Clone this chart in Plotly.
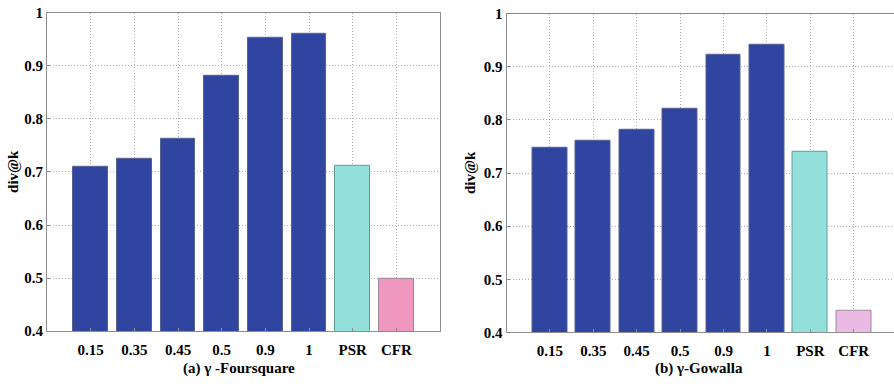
import plotly.graph_objects as go

W, H = 894, 388

# categories and values for each panel
categories = ["0.15", "0.35", "0.45", "0.5", "0.9", "1", "PSR", "CFR"]
foursquare_vals = [0.709, 0.724, 0.762, 0.881, 0.952, 0.961, 0.712, 0.499]
gowalla_vals = [0.748, 0.761, 0.782, 0.822, 0.922, 0.942, 0.741, 0.440]
y_ticks = [0.4, 0.5, 0.6, 0.7, 0.8, 0.9, 1.0]
y_tick_text = ["0.4", "0.5", "0.6", "0.7", "0.8", "0.9", "1"]
titles = ["(a) γ -Foursquare", "(b) γ-Gowalla"]

BLUE = "#2F45A0"
TEAL = "#93DFD9"
PINK_A = "#F097C0"
PINK_B = "#EBBAE4"
FONT = "Liberation Serif"

fill_a = [BLUE] * 6 + [TEAL, PINK_A]
fill_b = [BLUE] * 6 + [TEAL, PINK_B]
edge = ["#5A628F"] * 6 + ["#5E9C99", "#9A8A98"]

xpos = list(range(1, len(categories) + 1))
bold = lambda s: "<b>" + s + "</b>"

fig = go.Figure()
fig.add_trace(go.Bar(x=xpos, y=foursquare_vals, base=0, marker=dict(color=fill_a, line=dict(color=edge, width=1)),
                     width=0.8, xaxis="x", yaxis="y", showlegend=False))
fig.add_trace(go.Bar(x=xpos, y=gowalla_vals, base=0, marker=dict(color=fill_b, line=dict(color=edge, width=1)),
                     width=0.8, xaxis="x2", yaxis="y2", showlegend=False))

# pixel geometry of the two panels
L1, R1 = 47, 440
L2 = 506.5
step2 = 43.4
R2 = W
T1, B1 = 5, 337
T2, B2 = 6, 338.3

def px(v):
    return v / W

def py(v):
    return 1 - v / H

tickfont = dict(family=FONT, size=15, color="black")
gridcommon = dict(showgrid=True, gridcolor="#b0b0b0", griddash="1px,2px", gridwidth=1,
                  showline=True, linecolor="#8c8c8c", linewidth=1, ticks="inside",
                  ticklen=3, tickcolor="#8c8c8c", tickfont=tickfont, zeroline=False,
                  fixedrange=True, ticklabeloverflow="allow")

fig.update_layout(
    width=W, height=H,
    margin=dict(l=0, r=0, t=0, b=0),
    paper_bgcolor="white", plot_bgcolor="white",
    bargap=0,
    xaxis=dict(domain=[px(L1), px(R1)], range=[0, 9], anchor="y", ticklabelstandoff=5,
               tickvals=xpos, ticktext=[bold(c) for c in categories], mirror=True, **gridcommon),
    yaxis=dict(domain=[py(B1), py(T1)], range=[0.4, 1.0], anchor="x",
               tickvals=y_ticks, ticktext=[bold(t) for t in y_tick_text], mirror=True, **gridcommon),
    xaxis2=dict(domain=[px(L2), px(R2)], range=[0, (R2 - L2) / step2], anchor="y2", ticklabelstandoff=5,
                tickvals=xpos, ticktext=[bold(c) for c in categories], mirror=True, **gridcommon),
    yaxis2=dict(domain=[py(B2), py(T2)], range=[0.4, 1.0], anchor="x2",
                tickvals=y_ticks, ticktext=[bold(t) for t in y_tick_text], mirror=False, **gridcommon),
)

# axis titles and panel captions
ylab_font = dict(family=FONT, size=15, color="black")
fig.add_annotation(x=px(13), y=py((T1 + B1) / 2), xref="paper", yref="paper", text=bold("div@k"),
                   showarrow=False, textangle=-90, font=ylab_font, xanchor="center", yanchor="middle")
fig.add_annotation(x=px(470), y=py((T2 + B2) / 2), xref="paper", yref="paper", text=bold("div@k"),
                   showarrow=False, textangle=-90, font=ylab_font, xanchor="center", yanchor="middle")
fig.add_annotation(x=px(239), y=py(376), xref="paper", yref="paper", text=bold(titles[0]),
                   showarrow=False, font=dict(family=FONT, size=15, color="black"),
                   xanchor="center", yanchor="middle")
fig.add_annotation(x=px(699), y=py(376), xref="paper", yref="paper", text=bold(titles[1]),
                   showarrow=False, font=dict(family=FONT, size=15, color="black"),
                   xanchor="center", yanchor="middle")

fig.write_html("out.html")
